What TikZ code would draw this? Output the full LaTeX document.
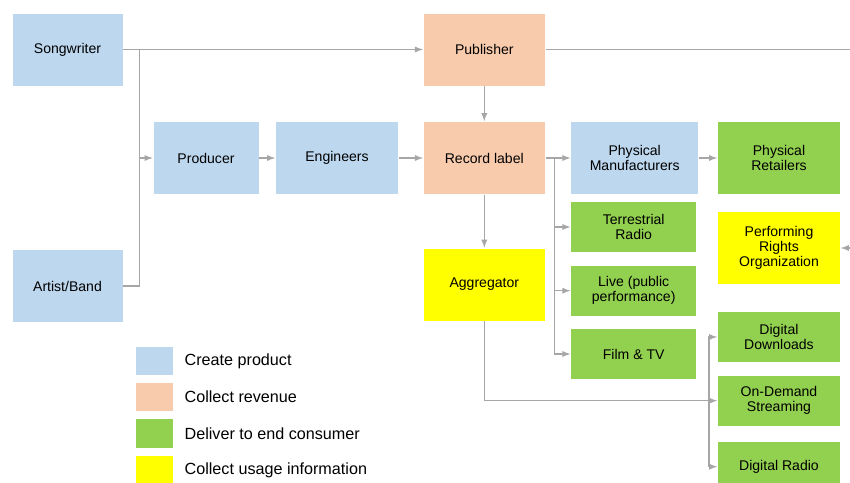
\documentclass[tikz,border=0pt]{standalone}
\usepackage{fontspec}
\setmainfont{Liberation Sans}
\usetikzlibrary{positioning}
\definecolor{prodblue}{HTML}{BDD7EE}
\definecolor{revpeach}{HTML}{F8CBAD}
\definecolor{usegreen}{HTML}{92D050}
\definecolor{infoyellow}{HTML}{FFFF00}
\definecolor{wiregray}{HTML}{A6A6A6}

\begin{document}
\begin{tikzpicture}[x=0.02cm, y=-0.02cm, >=latex,
	box/.style={draw=white, inner sep=0pt, align=center, minimum width=2.44cm, minimum height=1.46cm, font=\fontsize{8}{8.6}\selectfont},
	flat/.style={minimum height=1.02cm},
	create/.style={box, fill=prodblue},
	revenue/.style={box, fill=revpeach},
	deliver/.style={box, fill=usegreen},
	usage/.style={box, fill=infoyellow},
	swatch/.style={inner sep=0pt, minimum width=0.74cm, minimum height=0.58cm},
	key/.style={anchor=west, inner sep=0pt, font=\fontsize{9.2}{11}\selectfont},
	wire/.style={draw=wiregray, line width=0.6pt}]
	\clip (0, 0) rectangle (850, 483);
	\node[create, minimum width=2.22cm] (0) at (67.5, 49.5) {Songwriter};
	\node[create, minimum width=2.22cm] (1) at (67.5, 286) {Artist/Band};
	\node[create, minimum width=2.12cm] (2) at (206, 158) {Producer};
	\node[create, minimum width=2.46cm] (3) at (337, 158) {Engineers};
	\node[revenue] (4) at (484.3, 49.5) {Publisher};
	\node[revenue] (5) at (484.3, 158) {Record label};
	\node[usage] (6) at (484.3, 284.5) {Aggregator};
	\node[create, minimum width=2.56cm] (7) at (634.7, 158) {Physical\\Manufacturers};
	\node[deliver, minimum width=2.46cm] (8) at (779, 158) {Physical\\Retailers};
	\node[deliver, flat, minimum width=2.52cm] (9) at (633.7, 227) {Terrestrial\\Radio};
	\node[usage, minimum width=2.46cm] (10) at (779, 248) {Performing\\Rights\\Organization};
	\node[deliver, flat, minimum width=2.52cm] (11) at (633.7, 290.7) {Live (public\\performance)};
	\node[deliver, flat, minimum width=2.52cm] (12) at (633.7, 354) {Film \& TV};
	\node[deliver, flat, minimum width=2.46cm] (13) at (779, 337) {Digital\\Downloads};
	\node[deliver, flat, minimum width=2.46cm] (14) at (779, 400.7) {On-Demand\\Streaming};
	\node[deliver, flat, minimum width=2.46cm] (15) at (779, 466.7) {Digital Radio};
	\coordinate (a) at (139.3, 49.5);
	\coordinate (b) at (139.3, 158);
	\coordinate (c) at (554.7, 158);
	\coordinate (d) at (709, 400.7);
	\coordinate (e) at (850, 49.5);
	\coordinate (f) at (850, 248);
	\draw[wire, ->] (0) to (4);
	\draw[wire] (1) -| (a);
	\draw[wire, ->] (b) to (2);
	\draw[wire, ->] (2) to (3);
	\draw[wire, ->] (3) to (5);
	\draw[wire, ->] (4) to (5);
	\draw[wire] (4) to (e);
	\draw[wire, ->] (5) to (6);
	\draw[wire, ->] (5) to (7);
	\draw[wire, ->] (c) |- (9);
	\draw[wire, ->] (c) |- (11);
	\draw[wire, ->] (c) |- (12);
	\draw[wire, ->] (7) to (8);
	\draw[wire, ->] (f) to (10);
	\draw[wire, ->] (6) |- (14);
	\draw[wire, ->] (d) |- (13);
	\draw[wire, ->] (d) |- (15);
	\node[swatch, fill=prodblue] (16) at (154.3, 361) {};
	\node[key] (17) at (184.3, 361) {Create product};
	\node[swatch, fill=revpeach] (18) at (154.3, 397) {};
	\node[key] (19) at (184.3, 397) {Collect revenue};
	\node[swatch, fill=usegreen] (20) at (154.3, 433.5) {};
	\node[key] (21) at (184.3, 433.5) {Deliver to end consumer};
	\node[swatch, fill=infoyellow] (22) at (154.3, 470) {};
	\node[key] (23) at (184.3, 470) {Collect usage information};
\end{tikzpicture}
\end{document}
